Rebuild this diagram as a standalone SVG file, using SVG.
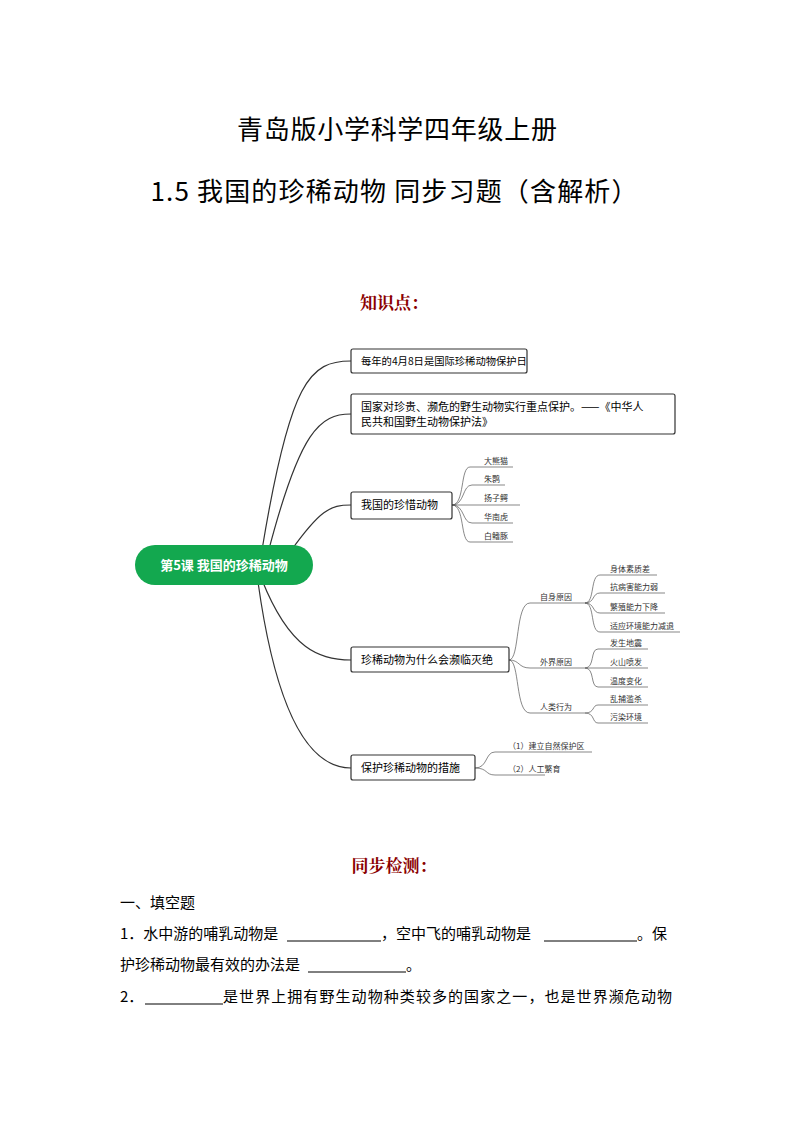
<svg xmlns="http://www.w3.org/2000/svg" width="794" height="1123" viewBox="0 0 794 1123">
<style>
text{font-family:"Noto Sans CJK SC","Liberation Sans",sans-serif;fill:#000}
.t{font-size:26px;text-anchor:middle}
.h{font-size:17px;font-weight:bold;fill:#8b0000;text-anchor:middle;font-family:"Noto Serif CJK SC","Noto Sans CJK SC",serif}
.b{fill:#fff;stroke:#333;stroke-width:1.2}
.bt{font-size:11px}
.s{font-size:8px;fill:#333}
.c{fill:none;stroke:#333;stroke-width:1.2}
.l{fill:none;stroke:#555;stroke-width:0.7}
.p{font-size:15px}
.u{stroke:#000;stroke-width:1}
</style>
<rect width="794" height="1123" fill="#fff"/>
<text class="t" x="397" y="139" textLength="320">青岛版小学科学四年级上册</text>
<text class="t" x="394" y="201" textLength="487">1.5 我国的珍稀动物 同步习题（含解析）</text>
<text class="h" x="394" y="309">知识点：</text>
<g id="connectors">
<path class="c" d="M262 550 C290 380,310 361,351 361"/>
<path class="c" d="M268 553 C300 430,320 414,351 414"/>
<path class="c" d="M290 552 C320 510,330 505,351 505"/>
<path class="c" d="M262 580 C290 650,320 660,351 660"/>
<path class="c" d="M258 582 C280 740,320 768,351 768"/>
<path class="l" d="M452 505 C465 505,460 467,470 467 H513 M452 505 C465 505,462 485,472 485 H505 M452 505 H520 M452 505 C465 505,462 523,472 523 H513 M452 505 C465 505,460 542,470 542 H513"/>
<path class="l" d="M509 660 C520 660,515 603,530 603 H585 M509 660 C520 660,518 668,530 668 H585 M509 660 C520 660,515 713,530 713 H585"/>
<path class="l" d="M585 603 C595 603,590 575,600 575 H657 M585 603 C595 603,592 593,600 593 H665 M585 603 C595 603,592 613,600 613 H665 M585 603 C595 603,590 632,600 632 H680"/>
<path class="l" d="M585 668 C595 668,590 649,598 649 H648 M585 668 H648 M585 668 C595 668,590 687,598 687 H648"/>
<path class="l" d="M585 713 C595 713,592 705,598 705 H648 M585 713 C595 713,592 723,598 723 H648"/>
<path class="l" d="M475 768 C488 768,485 752,495 752 H592 M475 768 C488 768,485 775,495 775 H545"/>
</g>
<g id="root"><rect x="135" y="545" width="178" height="40" rx="20" fill="#13a84f"/><text x="224" y="570" font-size="13" font-weight="bold" text-anchor="middle" style="fill:#fff">第5课 我国的珍稀动物</text></g>
<g id="n1"><rect class="b" x="351" y="349" width="176" height="24" rx="2"/><text x="361" y="365" font-size="10.3">每年的4月8日是国际珍稀动物保护日</text></g>
<g id="n2"><rect class="b" x="351" y="394" width="324" height="40" rx="2"/><text class="bt" x="361" y="411">国家对珍贵、濒危的野生动物实行重点保护。——《中华人</text><text class="bt" x="361" y="426">民共和国野生动物保护法》</text></g>
<g id="n3"><rect class="b" x="351" y="492" width="101" height="27" rx="2"/><text class="bt" x="361" y="509">我国的珍惜动物</text>
<text class="s" x="484" y="464">大熊猫</text><text class="s" x="484" y="482">朱鹮</text><text class="s" x="484" y="501">扬子鳄</text><text class="s" x="484" y="520">华南虎</text><text class="s" x="484" y="539">白鳍豚</text></g>
<g id="n4"><rect class="b" x="351" y="647" width="158" height="25" rx="2"/><text class="bt" x="361" y="664">珍稀动物为什么会濒临灭绝</text>
<text class="s" x="540" y="600">自身原因</text><text class="s" x="540" y="665">外界原因</text><text class="s" x="540" y="710">人类行为</text>
<text class="s" x="610" y="572">身体素质差</text><text class="s" x="610" y="590">抗病害能力弱</text><text class="s" x="610" y="610">繁殖能力下降</text><text class="s" x="610" y="629">适应环境能力减退</text>
<text class="s" x="610" y="646">发生地震</text><text class="s" x="610" y="665">火山喷发</text><text class="s" x="610" y="684">温度变化</text>
<text class="s" x="610" y="702">乱捕滥杀</text><text class="s" x="610" y="720">污染环境</text></g>
<g id="n5"><rect class="b" x="351" y="755" width="124" height="25" rx="2"/><text class="bt" x="361" y="772">保护珍稀动物的措施</text>
<text class="s" x="508" y="749">（1）建立自然保护区</text><text class="s" x="508" y="772">（2）人工繁育</text></g>
<text class="h" x="394" y="872">同步检测：</text>
<text class="p" x="120" y="908">一、填空题</text>
<text class="p" x="120" y="939">1．水中游的哺乳动物是</text><line class="u" x1="287" y1="941" x2="381" y2="941"/>
<text class="p" x="381" y="939">，空中飞的哺乳动物是</text><line class="u" x1="544" y1="941" x2="637" y2="941"/>
<text class="p" x="637" y="939">。保</text>
<text class="p" x="120" y="970">护珍稀动物最有效的办法是</text><line class="u" x1="308" y1="972" x2="406" y2="972"/><text class="p" x="406" y="970">。</text>
<text class="p" x="120" y="1002">2．</text><line class="u" x1="145" y1="1004" x2="223" y2="1004"/>
<text class="p" x="223" y="1002" textLength="449">是世界上拥有野生动物种类较多的国家之一，也是世界濒危动物</text>
</svg>
